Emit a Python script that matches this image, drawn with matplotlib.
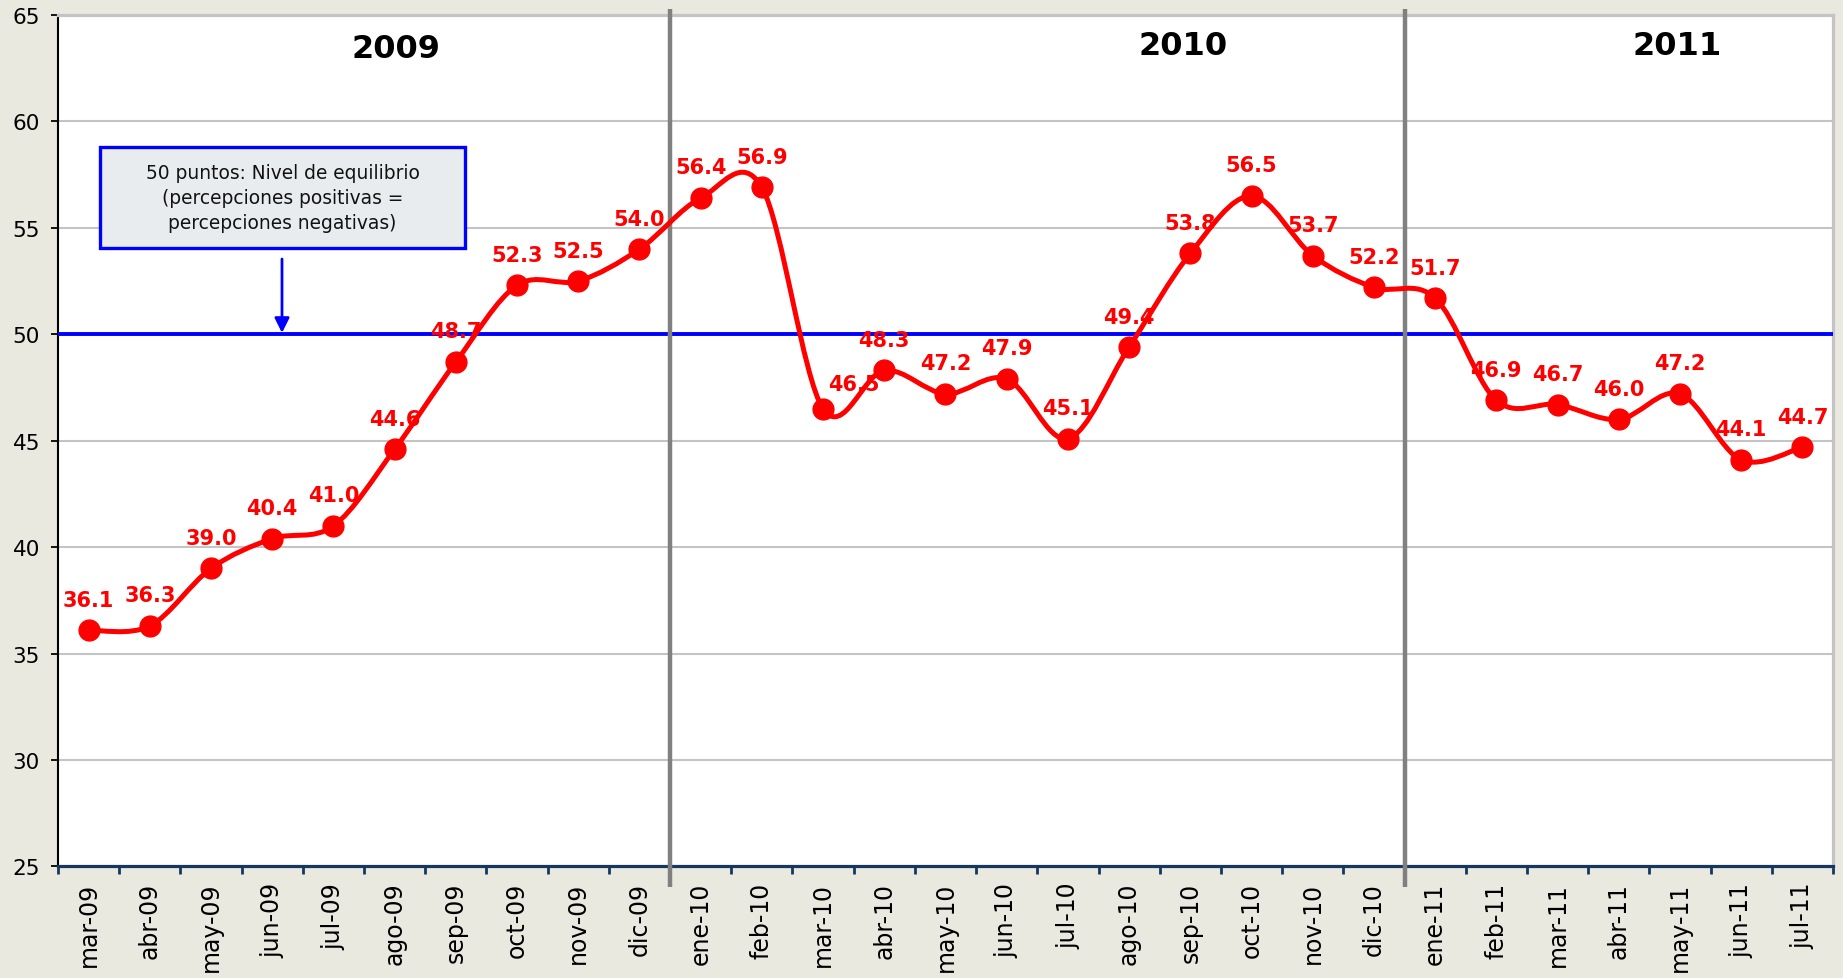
import numpy as np
import matplotlib
matplotlib.use("Agg")
import matplotlib.pyplot as plt
from matplotlib.path import Path
from matplotlib.patches import PathPatch, Rectangle
import matplotlib.transforms as mtransforms

# ---------------- data ----------------
months = ["mar-09", "abr-09", "may-09", "jun-09", "jul-09", "ago-09", "sep-09", "oct-09",
          "nov-09", "dic-09", "ene-10", "feb-10", "mar-10", "abr-10", "may-10", "jun-10",
          "jul-10", "ago-10", "sep-10", "oct-10", "nov-10", "dic-10", "ene-11", "feb-11",
          "mar-11", "abr-11", "may-11", "jun-11", "jul-11"]
values = [36.1, 36.3, 39.0, 40.4, 41.0, 44.6, 48.7, 52.3, 52.5, 54.0,
          56.4, 56.9, 46.5, 48.3, 47.2, 47.9, 45.1, 49.4, 53.8, 56.5,
          53.7, 52.2, 51.7, 46.9, 46.7, 46.0, 47.2, 44.1, 44.7]
years = ["2009", "2010", "2011"]
equilibrium = 50
yticks = [25, 30, 35, 40, 45, 50, 55, 60, 65]
note_text = "50 puntos: Nivel de equilibrio\n(percepciones positivas =\npercepciones negativas)"

# --------------- styling ---------------
BG = "#E9E9E0"
RED = "#FF0000"
BLUE = "#0000FF"
GRID = "#C4C4C4"
SEP = "#808080"
NAVY = "#17375E"

plt.rcParams['font.family'] = ['DejaVu Sans']

fig = plt.figure(figsize=(18.43, 9.79), dpi=100, facecolor=BG)
ax = fig.add_axes([0.03147, 0.1139, 0.9631, 0.8698])
ax.set_facecolor("white")

n = len(values)
x = np.arange(n)
y = np.array(values, dtype=float)

ax.set_xlim(-0.5, n - 0.5)
ax.set_ylim(yticks[0], yticks[-1])

# gridlines
ax.set_yticks(yticks)
for v in yticks[1:-1]:
    ax.axhline(v, color=GRID, lw=1.5, zorder=1)

# spines
ax.spines['left'].set_color('black')
ax.spines['left'].set_linewidth(1.5)
ax.spines['bottom'].set_color(NAVY)
ax.spines['bottom'].set_linewidth(2.3)
for s in ['top', 'right']:
    ax.spines[s].set_color(GRID)
    ax.spines[s].set_linewidth(2.3)

# ticks
ax.tick_params(axis='y', direction='out', length=5, width=1.3, color='black',
               labelsize=15.5, pad=8)
ax.set_xticks(np.arange(-0.5, n, 1.0))
ax.set_xticklabels([])
ax.set_xticks(x, minor=True)
ax.set_xticklabels(months, minor=True, rotation=90, fontsize=17)
ax.tick_params(axis='x', which='major', direction='out', length=6, width=2, color=NAVY)
ax.tick_params(axis='x', which='minor', length=0, pad=11)

# year separators
blend = mtransforms.blended_transform_factory(ax.transData, ax.transAxes)
year_starts = [i for i, m in enumerate(months) if m.startswith("ene")]
for i in year_starts:
    ax.plot([i - 0.5, i - 0.5], [1.007, -0.024], transform=blend, color=SEP,
            lw=3.2, clip_on=False, zorder=4, solid_capstyle='butt')

# year labels
year_x = [5.02, 17.88, 25.95]
year_y = [0.961, 0.9636, 0.9636]
for lab, xx, yy in zip(years, year_x, year_y):
    ax.text(xx, yy, lab, transform=blend, ha='center', va='center',
            fontsize=23, fontweight='bold', color='black', zorder=6)

# equilibrium line
ax.axhline(equilibrium, color=BLUE, lw=2.8, zorder=3)

# smoothed line (Catmull-Rom -> cubic Bezier)
pts = np.column_stack([x, y])
P = np.vstack([pts[0], pts, pts[-1]])
verts = [tuple(pts[0])]
codes = [Path.MOVETO]
for i in range(n - 1):
    p0, p1, p2, p3 = P[i], P[i + 1], P[i + 2], P[i + 3]
    c1 = p1 + (p2 - p0) / 6.0
    c2 = p2 - (p3 - p1) / 6.0
    verts += [tuple(c1), tuple(c2), tuple(p2)]
    codes += [Path.CURVE4] * 3
ax.add_patch(PathPatch(Path(verts, codes), fill=False, edgecolor=RED, lw=3.6,
                       zorder=7, capstyle='round', joinstyle='round'))
ax.plot(x, y, 'o', color=RED, ms=15, zorder=8)

# data labels
offsets = [(0, 22)] * n
offsets = list(offsets)
offsets[months.index("mar-10")] = (22, 18)
for xi, yi, (dx, dy) in zip(x, y, offsets):
    ax.annotate(f"{yi:.1f}", (xi, yi), xytext=(dx, dy), textcoords='offset points',
                ha='center', va='center', fontsize=15, fontweight='bold',
                color=RED, zorder=5)

# note box
ax.add_patch(Rectangle((0.0237, 0.7264), 0.2056, 0.1186, transform=ax.transAxes,
                       facecolor="#E9ECEE", edgecolor=BLUE, lw=2.4, zorder=9))
ax.text(0.0237 + 0.2056 / 2, 0.7264 + 0.1186 / 2, note_text, transform=ax.transAxes,
        ha='center', va='center', fontsize=13.4, color='#111111', zorder=10,
        linespacing=1.42)
ax.annotate("", xy=(0.1262, equilibrium), xycoords=('axes fraction', 'data'),
            xytext=(0.1262, 0.7134), textcoords='axes fraction',
            arrowprops=dict(arrowstyle='-|>', color=BLUE, lw=2, mutation_scale=22,
                            shrinkA=0, shrinkB=1),
            zorder=9)

fig.savefig("out.png", dpi=100, facecolor=BG)
